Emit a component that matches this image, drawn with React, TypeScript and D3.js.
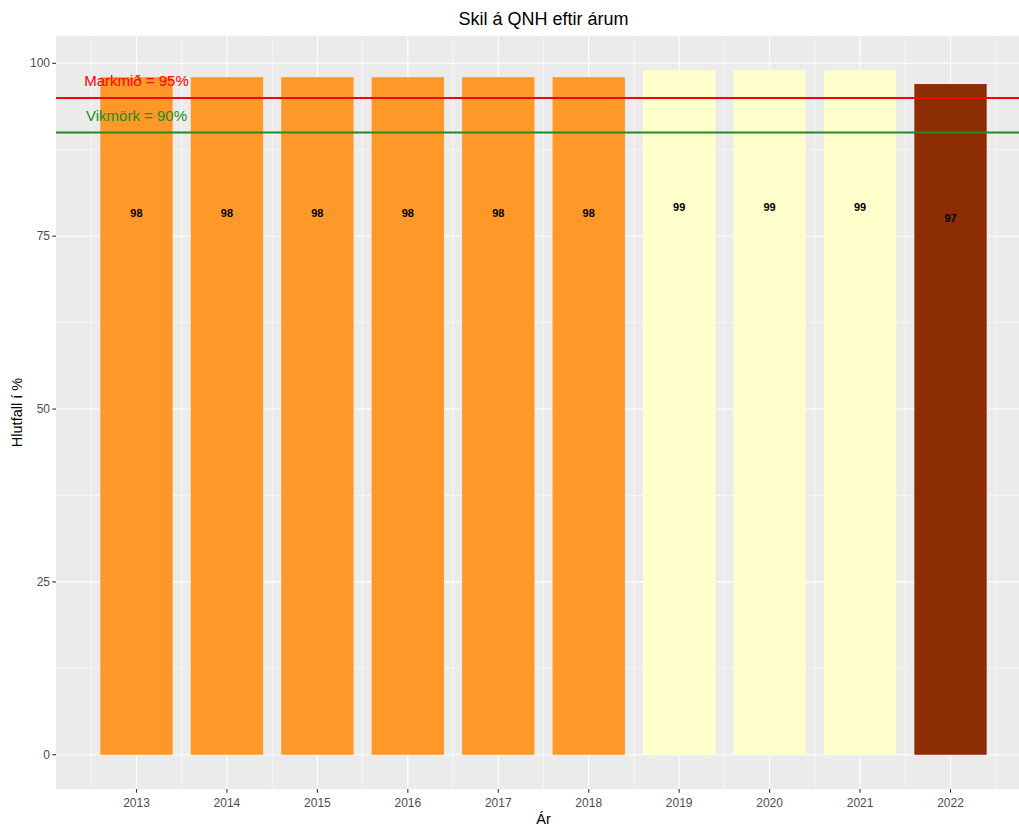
import React from "react";
import * as d3 from "d3";

const years = [2013, 2014, 2015, 2016, 2017, 2018, 2019, 2020, 2021, 2022];
const values = [98, 98, 98, 98, 98, 98, 99, 99, 99, 97];
const barColors = ["#FE9929", "#FE9929", "#FE9929", "#FE9929", "#FE9929", "#FE9929", "#FFFFCC", "#FFFFCC", "#FFFFCC", "#8C2D04"];
const yTicks = [0, 25, 50, 75, 100];
const yMinor = [12.5, 37.5, 62.5, 87.5];
const refLines = [
  { value: 95, label: "Markmið = 95%", color: "#FF0000", labelValue: 97.5 },
  { value: 90, label: "Vikmörk = 90%", color: "#228B22", labelValue: 92.5 },
];

const W = 1019;
const H = 828;
const PL = 56;
const PR = 1031;
const PT = 36;
const PB = 789;

export default function App() {
  const x = d3.scaleLinear().domain([2012.11, 2022.89]).range([PL, PR]);
  const y = d3.scaleLinear().domain([-4.95, 103.95]).range([PB, PT]);
  const barW = x(2013.4) - x(2012.6);
  const xMinor = d3.range(2012.5, 2023, 1);
  const font = "'Liberation Sans', Arial, sans-serif";
  return (
    <svg width={W} height={H} style={{ position: "absolute", left: 0, top: 0, background: "#fff" }} fontFamily={font}>
      <defs>
        <clipPath id="panel">
          <rect x={PL} y={PT} width={PR - PL} height={PB - PT} />
        </clipPath>
      </defs>
      <rect x={PL} y={PT} width={PR - PL} height={PB - PT} fill="#EBEBEB" />
      <g clipPath="url(#panel)">
        {yMinor.map((v) => (
          <line key={"ym" + v} x1={PL} x2={PR} y1={y(v)} y2={y(v)} stroke="#fff" strokeWidth={0.55} />
        ))}
        {xMinor.map((v) => (
          <line key={"xm" + v} y1={PT} y2={PB} x1={x(v)} x2={x(v)} stroke="#fff" strokeWidth={0.55} />
        ))}
        {yTicks.map((v) => (
          <line key={"y" + v} x1={PL} x2={PR} y1={y(v)} y2={y(v)} stroke="#fff" strokeWidth={1.1} />
        ))}
        {years.map((v) => (
          <line key={"x" + v} y1={PT} y2={PB} x1={x(v)} x2={x(v)} stroke="#fff" strokeWidth={1.1} />
        ))}
        {years.map((yr, i) => (
          <rect key={"b" + yr} x={x(yr) - barW / 2} y={y(values[i])} width={barW} height={y(0) - y(values[i])} fill={barColors[i]} />
        ))}
        {years.map((yr, i) => (
          <text key={"t" + yr} x={x(yr)} y={y(values[i] * 0.8)} textAnchor="middle" dominantBaseline="central" fontSize={11} fontWeight="bold" fill="#000">
            {values[i]}
          </text>
        ))}
        {refLines.map((r) => (
          <line key={"r" + r.value} x1={PL} x2={PR} y1={y(r.value)} y2={y(r.value)} stroke={r.color} strokeWidth={2} />
        ))}
        {refLines.map((r) => (
          <text key={"rl" + r.value} x={x(2013)} y={y(r.labelValue)} textAnchor="middle" dominantBaseline="central" fontSize={15} fill={r.color}>
            {r.label}
          </text>
        ))}
      </g>
      {yTicks.map((v) => (
        <g key={"yt" + v}>
          <line x1={PL - 3.7} x2={PL} y1={y(v)} y2={y(v)} stroke="#333" strokeWidth={1.1} />
          <text x={PL - 6} y={y(v)} textAnchor="end" dominantBaseline="central" fontSize={12} fill="#4D4D4D">
            {v}
          </text>
        </g>
      ))}
      {years.map((v) => (
        <g key={"xt" + v}>
          <line y1={PB} y2={PB + 3.7} x1={x(v)} x2={x(v)} stroke="#333" strokeWidth={1.1} />
          <text x={x(v)} y={PB + 14} textAnchor="middle" dominantBaseline="central" fontSize={12} fill="#4D4D4D">
            {v}
          </text>
        </g>
      ))}
      <text x={(PL + PR) / 2} y={19} textAnchor="middle" dominantBaseline="central" fontSize={18} fill="#000">
        Skil á QNH eftir árum
      </text>
      <text x={(PL + PR) / 2} y={819} textAnchor="middle" dominantBaseline="central" fontSize={14.5} fill="#000">
        Ár
      </text>
      <text transform={`translate(17,${(PT + PB) / 2}) rotate(-90)`} textAnchor="middle" dominantBaseline="central" fontSize={14.5} fill="#000">
        Hlutfall í %
      </text>
    </svg>
  );
}
